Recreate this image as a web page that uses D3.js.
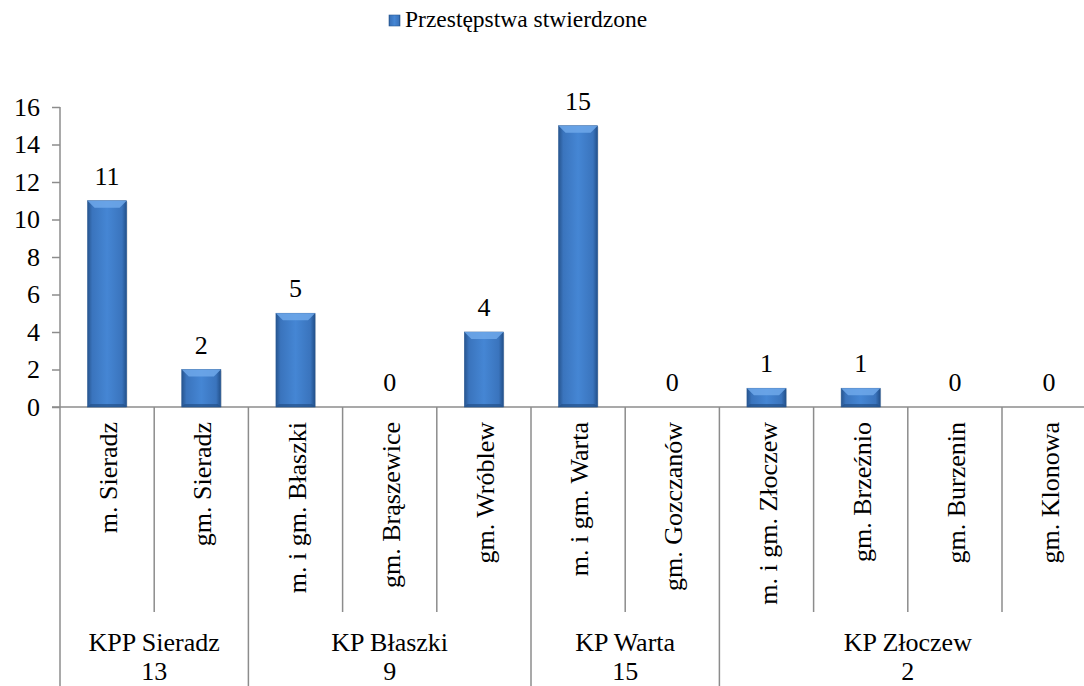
<!DOCTYPE html>
<html>
<head>
<meta charset="utf-8">
<script src="https://cdn.jsdelivr.net/npm/d3@7"></script>
<style>
  body { margin: 0; background: #fff; }
  svg { display: block; }
  svg text { font-family: "Liberation Serif", "Times New Roman", serif; fill: #000; }
</style>
</head>
<body>
<div id="chart"></div>
<script>
// data
var categories = ["m. Sieradz", "gm. Sieradz", "m. i gm. Błaszki", "gm. Brąszewice", "gm. Wróblew",
                  "m. i gm. Warta", "gm. Gozczanów", "m. i gm. Złoczew", "gm. Brzeźnio", "gm. Burzenin", "gm. Klonowa"];
var values = [11, 2, 5, 0, 4, 15, 0, 1, 1, 0, 0];
var groupNames = ["KPP Sieradz", "KP Błaszki", "KP Warta", "KP Złoczew"];
var groupTotals = [13, 9, 15, 2];
var groupSizes = [2, 3, 2, 4];
var yTicks = [0, 2, 4, 6, 8, 10, 12, 14, 16];
var seriesName = "Przestępstwa stwierdzone";

var W = 1084, H = 686;
var left = 60, base = 407, yTop = 107;
var step = 94.2;
var axisColor = "#8c8c8c";
var fs = 26;

var svg = d3.select("#chart").append("svg")
    .attr("width", W)
    .attr("height", H);

// bar gradient: dark edges, lighter middle
var defs = svg.append("defs");
var grad = defs.append("linearGradient").attr("id", "barGrad")
    .attr("x1", "0").attr("x2", "1").attr("y1", "0").attr("y2", "0");
grad.append("stop").attr("offset", "0").attr("stop-color", "#27558f");
grad.append("stop").attr("offset", "0.12").attr("stop-color", "#3a74bd");
grad.append("stop").attr("offset", "0.5").attr("stop-color", "#4586d4");
grad.append("stop").attr("offset", "0.88").attr("stop-color", "#3a74bd");
grad.append("stop").attr("offset", "1").attr("stop-color", "#22508a");

var x = d3.scaleBand()
    .domain(categories)
    .range([left, left + step * categories.length])
    .paddingInner(0.585)
    .paddingOuter(0.2925);

var y = d3.scaleLinear()
    .domain([0, 16])
    .range([base, yTop]);

// y axis
var yAxis = svg.append("g")
    .attr("transform", "translate(" + left + ",0)")
    .call(d3.axisLeft(y).tickValues(yTicks).tickSize(8).tickPadding(12));
yAxis.select(".domain").remove();
yAxis.selectAll("line").attr("stroke", axisColor).attr("stroke-width", 1.5);
yAxis.selectAll("text").attr("font-size", fs);

svg.append("line")
    .attr("x1", left).attr("x2", left)
    .attr("y1", yTop).attr("y2", H)
    .attr("stroke", axisColor).attr("stroke-width", 1.5);

// x axis baseline
svg.append("line")
    .attr("x1", left - 8).attr("x2", W)
    .attr("y1", base).attr("y2", base)
    .attr("stroke", axisColor).attr("stroke-width", 1.5);

// category separators, long ones between groups
var boundaries = [];
var acc = 0;
groupSizes.forEach(function(n){ acc += n; boundaries.push(acc); });
for (var i = 1; i <= categories.length; i++) {
    var isGroup = boundaries.indexOf(i) >= 0;
    svg.append("line")
        .attr("x1", left + step * i).attr("x2", left + step * i)
        .attr("y1", base).attr("y2", isGroup ? H : 612)
        .attr("stroke", axisColor).attr("stroke-width", 1.5);
}

// bars
svg.selectAll(".bar")
    .data(values)
    .enter().append("g")
    .attr("class", "bar")
    .each(function(d, i){
        if (d <= 0) return;
        var g = d3.select(this);
        var bx = x(categories[i]), bw = x.bandwidth(), by = y(d);
        g.append("rect")
            .attr("x", bx + 1).attr("y", by + 1)
            .attr("width", bw).attr("height", base - by - 1)
            .attr("fill", "#000").attr("opacity", 0.12);
        g.append("rect")
            .attr("x", bx).attr("y", by)
            .attr("width", bw).attr("height", base - by)
            .attr("fill", "url(#barGrad)")
            .attr("stroke", "#2b5a94").attr("stroke-width", 0.6);
        var bev = Math.min(7, (base - by) / 2);
        // top bevel
        g.append("path")
            .attr("d", "M" + bx + "," + by + "L" + (bx + bw) + "," + by +
                       "L" + (bx + bw - bev) + "," + (by + bev) + "L" + (bx + bev) + "," + (by + bev) + "Z")
            .attr("fill", "#6ea8ea").attr("opacity", 0.85);
        // bottom bevel
        g.append("path")
            .attr("d", "M" + bx + "," + base + "L" + (bx + bw) + "," + base +
                       "L" + (bx + bw - 3) + "," + (base - 3) + "L" + (bx + 3) + "," + (base - 3) + "Z")
            .attr("fill", "#24518a").attr("opacity", 0.7);
    });

// value labels
svg.selectAll(".val")
    .data(values)
    .enter().append("text")
    .attr("class", "val")
    .attr("x", function(d, i){ return x(categories[i]) + x.bandwidth() / 2; })
    .attr("y", function(d){ return y(d) - 16; })
    .attr("text-anchor", "middle")
    .attr("font-size", fs)
    .text(function(d){ return d; });

// category labels, rotated
svg.selectAll(".cat")
    .data(categories)
    .enter().append("text")
    .attr("class", "cat")
    .attr("transform", function(d){
        return "translate(" + (x(d) + x.bandwidth() / 2 + 10) + "," + (base + 15) + ") rotate(-90)";
    })
    .attr("text-anchor", "end")
    .attr("font-size", fs)
    .text(function(d){ return d; });

// group labels
var start = 0;
groupNames.forEach(function(name, gi){
    var cx = left + step * (start + groupSizes[gi] / 2);
    svg.append("text").attr("x", cx).attr("y", 651)
        .attr("text-anchor", "middle").attr("font-size", fs).text(name);
    svg.append("text").attr("x", cx).attr("y", 680)
        .attr("text-anchor", "middle").attr("font-size", fs).text(groupTotals[gi]);
    start += groupSizes[gi];
});

// legend
var lg = svg.append("g").attr("transform", "translate(389,15)");
lg.append("rect").attr("width", 11).attr("height", 11)
    .attr("fill", "url(#barGrad)").attr("stroke", "#2b5a94").attr("stroke-width", 0.6);
lg.append("text").attr("x", 16).attr("y", 12).attr("font-size", 23.5).text(seriesName);
</script>
</body>
</html>
